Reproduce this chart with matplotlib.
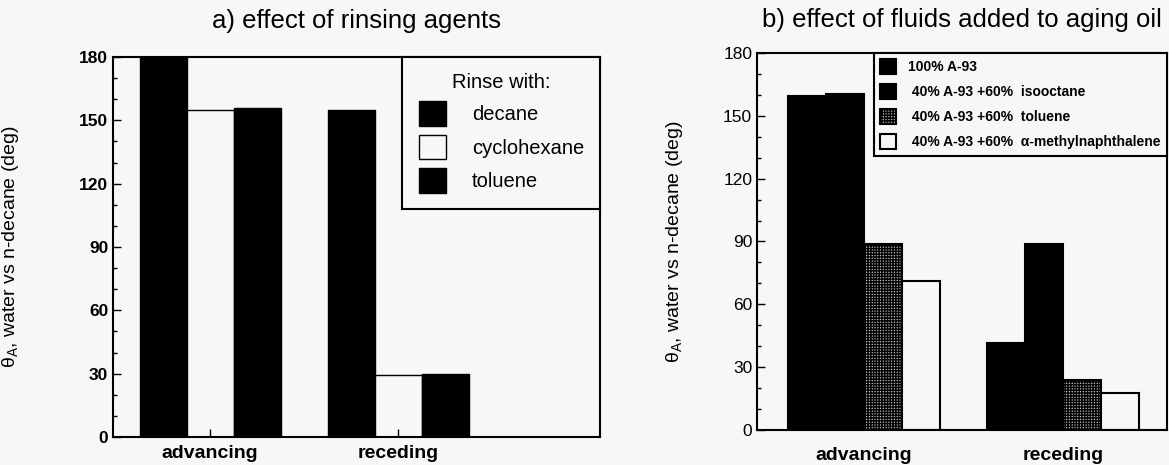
import matplotlib
matplotlib.use("Agg")
import matplotlib.pyplot as plt
from matplotlib.ticker import MultipleLocator
import numpy as np

plt.rcParams['font.family'] = ['Liberation Sans', 'DejaVu Sans']
plt.rcParams['mathtext.default'] = 'regular'
plt.rcParams['hatch.linewidth'] = 1.0

BG = '#f7f7f7'

# a) rinsing agents
groups = ['advancing', 'receding']
rinse_names = ['decane', 'cyclohexane', 'toluene']
rinse_decane = [180, 155]
rinse_cyclohexane = [155, 29.5]
rinse_toluene = [156, 30]

# b) fluids added to the aging oil
fluid_names = ['100% A-93',
               ' 40% A-93 +60%  isooctane',
               ' 40% A-93 +60%  toluene',
               ' 40% A-93 +60%  \u03b1-methylnaphthalene']
fluid_a93 = [159.5, 41.5]
fluid_isooctane = [160.5, 89]
fluid_toluene = [89, 24]
fluid_methylnaph = [71, 17.5]

ylab = r'θ$_\mathregular{A}$, water vs n-decane (deg)'

fig = plt.figure(figsize=(11.69, 4.65), dpi=100, facecolor=BG)
ax1 = fig.add_axes([0.0967, 0.0602, 0.4166, 0.8172])
ax2 = fig.add_axes([0.6476, 0.0753, 0.3507, 0.8107])

x = np.arange(len(groups))

# left panel
w1 = 0.25
styles1 = [dict(color='black', edgecolor='black'),
           dict(color=BG, edgecolor='black'),
           dict(color='black', edgecolor='black')]
for i, (vals, name, st) in enumerate(zip([rinse_decane, rinse_cyclohexane, rinse_toluene],
                                         rinse_names, styles1)):
    ax1.bar(x + (i - 1) * w1, vals, w1, label=name, linewidth=1.0, **st)

ax1.set_xlim(-0.516, 2.074)
ax1.set_ylim(0, 180)
ax1.yaxis.set_major_locator(MultipleLocator(30))
ax1.yaxis.set_minor_locator(MultipleLocator(10))
ax1.set_xticks(x)
ax1.set_xticklabels(groups, fontsize=14, fontweight='bold')
ax1.tick_params(axis='y', labelsize=12.5)
for lab in ax1.get_yticklabels():
    lab.set_fontweight('bold')
ax1.tick_params(axis='x', pad=6)
ax1.set_title('a) effect of rinsing agents', fontsize=18.5, pad=21)
ax1.set_ylabel(ylab, fontsize=14)
ax1.yaxis.set_label_coords(-0.19, 0.5)

leg1 = ax1.legend(title='Rinse with:', loc='upper right', bbox_to_anchor=(1, 1),
                  borderaxespad=0, fontsize=14.5, title_fontsize=14.5,
                  handlelength=1.34, handleheight=1.5, handletextpad=1.3,
                  labelspacing=0.45, borderpad=0.8, fancybox=False,
                  framealpha=1, facecolor=BG, edgecolor='black')
leg1.get_frame().set_linewidth(1.5)

# right panel
w2 = 0.19
styles2 = [dict(color='black', edgecolor='black'),
           dict(color='black', edgecolor='black'),
           dict(color='#b5b5b5', edgecolor='black', hatch='++++++'),
           dict(color=BG, edgecolor='black')]
for i, (vals, name, st) in enumerate(zip([fluid_a93, fluid_isooctane, fluid_toluene, fluid_methylnaph],
                                         fluid_names, styles2)):
    ax2.bar(x + (i - 1.5) * w2, vals, w2, label=name, linewidth=1.5, **st)

ax2.set_xlim(-0.538, 1.523)
ax2.set_ylim(0, 180)
ax2.yaxis.set_major_locator(MultipleLocator(30))
ax2.yaxis.set_minor_locator(MultipleLocator(10))
ax2.set_xticks(x)
ax2.set_xticklabels(groups, fontsize=14, fontweight='bold')
ax2.tick_params(axis='y', labelsize=12.5)
ax2.tick_params(axis='x', length=0, pad=12)
ax2.set_title('b) effect of fluids added to aging oil', fontsize=18.5, pad=19)
ax2.set_ylabel(ylab, fontsize=14)
ax2.yaxis.set_label_coords(-0.175, 0.5)

leg2 = ax2.legend(loc='upper right', bbox_to_anchor=(1, 1), borderaxespad=0,
                  prop=dict(size=10, weight='bold'),
                  handlelength=1.1, handleheight=1.25, handletextpad=0.9,
                  labelspacing=0.72, borderpad=0.45, fancybox=False,
                  framealpha=1, facecolor=BG, edgecolor='black')
leg2.get_frame().set_linewidth(1.5)

for ax in (ax1, ax2):
    ax.set_facecolor(BG)
    for sp in ax.spines.values():
        sp.set_linewidth(1.5)
    ax.tick_params(which='both', direction='in', width=1.0)
    ax.tick_params(which='major', length=6)
    ax.tick_params(which='minor', length=3)

fig.savefig('out.png', dpi=100, facecolor=BG)
